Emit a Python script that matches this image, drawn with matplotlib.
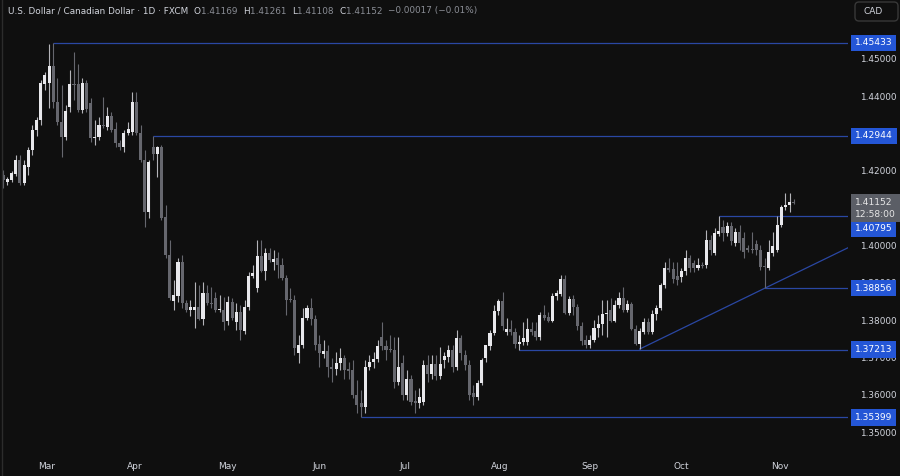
import matplotlib
matplotlib.use("Agg")
import matplotlib.pyplot as plt
from matplotlib.lines import Line2D
from matplotlib.patches import FancyBboxPatch
from matplotlib.transforms import IdentityTransform
import numpy as np

# USD/CAD daily candles (mid Feb -> early Nov)
opens = [
    1.4190, 1.4171, 1.4176, 1.4192, 1.4229, 1.4168, 1.4210, 1.4256, 1.4310, 1.4337,
    1.4433, 1.4436, 1.4481, 1.4385, 1.4332, 1.4291, 1.4371, 1.4433, 1.4433, 1.4363,
    1.4436, 1.4382, 1.4288, 1.4291, 1.4324, 1.4318, 1.4347, 1.4313, 1.4275, 1.4264,
    1.4302, 1.4305, 1.4385, 1.4302, 1.4229, 1.4090, 1.4264, 1.4245, 1.4264, 1.4077,
    1.3975, 1.3852, 1.3865, 1.3956, 1.3846, 1.3828, 1.3828, 1.3836, 1.3804, 1.3873,
    1.3846, 1.3860, 1.3828, 1.3828, 1.3799, 1.3849, 1.3796, 1.3823, 1.3771, 1.3836,
    1.3919, 1.3887, 1.3972, 1.3932, 1.3980, 1.3956, 1.3966, 1.3948, 1.3913, 1.3857,
    1.3854, 1.3712, 1.3733, 1.3807, 1.3833, 1.3804, 1.3736, 1.3709, 1.3717, 1.3675,
    1.3670, 1.3686, 1.3699, 1.3670, 1.3667, 1.3600, 1.3578, 1.3568, 1.3675, 1.3689,
    1.3696, 1.3755, 1.3731, 1.3723, 1.3720, 1.3635, 1.3686, 1.3600, 1.3643, 1.3584,
    1.3578, 1.3581, 1.3680, 1.3656, 1.3683, 1.3651, 1.3694, 1.3701, 1.3720, 1.3675,
    1.3752, 1.3707, 1.3680, 1.3605, 1.3594, 1.3632, 1.3699, 1.3731, 1.3766, 1.3825,
    1.3852, 1.3769, 1.3777, 1.3769, 1.3736, 1.3741, 1.3741, 1.3777, 1.3771, 1.3755,
    1.3815, 1.3809, 1.3799, 1.3865, 1.3870, 1.3911, 1.3820, 1.3857, 1.3836, 1.3785,
    1.3747, 1.3733, 1.3747, 1.3779, 1.3790, 1.3817, 1.3828, 1.3799, 1.3841, 1.3860,
    1.3828, 1.3844, 1.3777, 1.3736, 1.3769, 1.3796, 1.3769, 1.3817, 1.3833, 1.3895,
    1.3940, 1.3937, 1.3919, 1.3916, 1.3932, 1.3966, 1.3953, 1.3940, 1.3948, 1.3948,
    1.4015, 1.3980, 1.4031, 1.4050, 1.4034, 1.4053, 1.4007, 1.4037, 1.4021, 1.3993,
    1.3991, 1.4004, 1.3988, 1.3945, 1.3940, 1.3980, 1.3988, 1.4055, 1.4104, 1.4109,
    1.41169,
]
highs = [
    1.4203, 1.4184, 1.4200, 1.4243, 1.4243, 1.4229, 1.4264, 1.4324, 1.4345, 1.4444,
    1.4465, 1.4540, 1.45433, 1.4449, 1.4430, 1.4377, 1.4470, 1.4519, 1.4486, 1.4449,
    1.4444, 1.4395, 1.4337, 1.4345, 1.4398, 1.4371, 1.4358, 1.4332, 1.4283, 1.4310,
    1.4332, 1.4412, 1.4412, 1.4324, 1.4256, 1.4229, 1.42944, 1.4267, 1.4270, 1.4109,
    1.4015, 1.3908, 1.3966, 1.3975, 1.3854, 1.3854, 1.3903, 1.3895, 1.3903, 1.3895,
    1.3889, 1.3876, 1.3868, 1.3862, 1.3865, 1.3860, 1.3846, 1.3841, 1.3854, 1.3930,
    1.3948, 1.4015, 1.4015, 1.3993, 1.3993, 1.3988, 1.3983, 1.3966, 1.3921, 1.3887,
    1.3868, 1.3761, 1.3833, 1.3841, 1.3860, 1.3815, 1.3761, 1.3747, 1.3733, 1.3699,
    1.3715, 1.3725, 1.3707, 1.3689, 1.3694, 1.3640, 1.3613, 1.3694, 1.3707, 1.3715,
    1.3747, 1.3795, 1.3747, 1.3761, 1.3755, 1.3755, 1.3707, 1.3667, 1.3654, 1.3613,
    1.3619, 1.3694, 1.3707, 1.3707, 1.3707, 1.3728, 1.3715, 1.3733, 1.3733, 1.3774,
    1.3761, 1.3720, 1.3694, 1.3627, 1.3640, 1.3699, 1.3733, 1.3774, 1.3841, 1.3857,
    1.3876, 1.3807, 1.3801, 1.3779, 1.3761, 1.3795, 1.3807, 1.3795, 1.3795, 1.3823,
    1.3841, 1.3823, 1.3873, 1.3881, 1.3921, 1.3921, 1.3865, 1.3868, 1.3844, 1.3795,
    1.3761, 1.3761, 1.3801, 1.3815, 1.3854, 1.3854, 1.3860, 1.3854, 1.3876, 1.3889,
    1.3854, 1.3849, 1.3788, 1.3779, 1.3807, 1.3807, 1.3828, 1.3841, 1.3900, 1.3956,
    1.3966, 1.3956, 1.3956, 1.3940, 1.3988, 1.3975, 1.3961, 1.3966, 1.3956, 1.4042,
    1.4029, 1.4047, 1.40795, 1.4069, 1.4063, 1.4063, 1.4047, 1.4055, 1.4037, 1.4002,
    1.4037, 1.4015, 1.4002, 1.3966, 1.4015, 1.4037, 1.4079, 1.4109, 1.4141, 1.4141,
    1.41261,
]
lows = [
    1.4155, 1.4163, 1.4171, 1.4187, 1.4163, 1.4163, 1.4190, 1.4243, 1.4294, 1.4324,
    1.4417, 1.4368, 1.4368, 1.4324, 1.4237, 1.4283, 1.4358, 1.4390, 1.4358, 1.4355,
    1.4358, 1.4278, 1.4270, 1.4283, 1.4316, 1.4310, 1.4305, 1.4264, 1.4256, 1.4251,
    1.4296, 1.4296, 1.4296, 1.4224, 1.4050, 1.4074, 1.4229, 1.4184, 1.4069, 1.3966,
    1.3854, 1.3828, 1.3849, 1.3833, 1.3823, 1.3812, 1.3779, 1.3801, 1.3788, 1.3841,
    1.3833, 1.3823, 1.3823, 1.3774, 1.3788, 1.3801, 1.3774, 1.3747, 1.3763, 1.3828,
    1.3913, 1.3876, 1.3930, 1.3908, 1.3956, 1.3935, 1.3913, 1.3908, 1.3815, 1.3849,
    1.3707, 1.3686, 1.3725, 1.3801, 1.3788, 1.3720, 1.3675, 1.3699, 1.3648, 1.3635,
    1.3654, 1.3667, 1.3643, 1.3643, 1.3592, 1.3552, 1.35399, 1.3552, 1.3667, 1.3672,
    1.3689, 1.3720, 1.3694, 1.3715, 1.3619, 1.3627, 1.3586, 1.3586, 1.3573, 1.3552,
    1.3565, 1.3573, 1.3635, 1.3643, 1.3640, 1.3643, 1.3672, 1.3689, 1.3662, 1.3667,
    1.3694, 1.3667, 1.3586, 1.3573, 1.3586, 1.3627, 1.3689, 1.3720, 1.3761, 1.3815,
    1.3774, 1.3761, 1.3761, 1.3725, 1.37213, 1.3733, 1.3733, 1.3761, 1.3747, 1.3747,
    1.3801, 1.3796, 1.3796, 1.3854, 1.3865, 1.3817, 1.3815, 1.3815, 1.3774, 1.3733,
    1.3725, 1.3725, 1.3741, 1.3755, 1.3761, 1.3755, 1.3796, 1.3796, 1.3833, 1.3823,
    1.3823, 1.3774, 1.3733, 1.3723, 1.3763, 1.3763, 1.3763, 1.3801, 1.3828, 1.3887,
    1.3930, 1.3900, 1.3895, 1.3903, 1.3921, 1.3930, 1.3930, 1.3935, 1.3940, 1.3940,
    1.3975, 1.3975, 1.4026, 1.4013, 1.4026, 1.4002, 1.3999, 1.3988, 1.3966, 1.3983,
    1.3980, 1.3975, 1.3935, 1.38856, 1.3935, 1.3972, 1.3983, 1.4050, 1.4095, 1.4090,
    1.41108,
]
closes = [
    1.4176, 1.4179, 1.4195, 1.4229, 1.4168, 1.4216, 1.4256, 1.4310, 1.4337, 1.4436,
    1.4457, 1.4481, 1.4385, 1.4332, 1.4291, 1.4361, 1.4433, 1.4430, 1.4363, 1.4436,
    1.4366, 1.4288, 1.4291, 1.4324, 1.4321, 1.4347, 1.4310, 1.4275, 1.4264, 1.4302,
    1.4313, 1.4385, 1.4302, 1.4229, 1.4090, 1.4224, 1.4245, 1.4264, 1.4074, 1.3975,
    1.3860, 1.3868, 1.3956, 1.3846, 1.3828, 1.3836, 1.3836, 1.3804, 1.3873, 1.3846,
    1.3844, 1.3828, 1.3831, 1.3796, 1.3849, 1.3807, 1.3823, 1.3774, 1.3836, 1.3919,
    1.3927, 1.3972, 1.3932, 1.3980, 1.3961, 1.3964, 1.3948, 1.3913, 1.3854, 1.3854,
    1.3725, 1.3733, 1.3807, 1.3833, 1.3804, 1.3733, 1.3712, 1.3717, 1.3675, 1.3670,
    1.3686, 1.3699, 1.3667, 1.3664, 1.3600, 1.3573, 1.3568, 1.3675, 1.3689, 1.3696,
    1.3731, 1.3731, 1.3720, 1.3720, 1.3635, 1.3675, 1.3600, 1.3643, 1.3581, 1.3578,
    1.3594, 1.3680, 1.3656, 1.3683, 1.3651, 1.3683, 1.3704, 1.3720, 1.3675, 1.3752,
    1.3712, 1.3680, 1.3600, 1.3594, 1.3632, 1.3694, 1.3733, 1.3766, 1.3825, 1.3852,
    1.3785, 1.3777, 1.3769, 1.3736, 1.3741, 1.3752, 1.3777, 1.3769, 1.3755, 1.3815,
    1.3807, 1.3799, 1.3865, 1.3873, 1.3911, 1.3820, 1.3857, 1.3836, 1.3785, 1.3744,
    1.3733, 1.3747, 1.3779, 1.3790, 1.3817, 1.3820, 1.3799, 1.3841, 1.3860, 1.3828,
    1.3844, 1.3777, 1.3736, 1.3771, 1.3796, 1.3769, 1.3817, 1.3833, 1.3895, 1.3940,
    1.3935, 1.3911, 1.3908, 1.3932, 1.3966, 1.3940, 1.3940, 1.3948, 1.3945, 1.4015,
    1.3988, 1.4034, 1.4039, 1.4034, 1.4053, 1.4013, 1.4037, 1.4007, 1.3983, 1.3988,
    1.3988, 1.3988, 1.3943, 1.3943, 1.3983, 1.3999, 1.4055, 1.4104, 1.4109, 1.4117,
    1.41152,
]

months = ["Mar", "Apr", "May", "Jun", "Jul", "Aug", "Sep", "Oct", "Nov"]
month_pos = [10.5, 31.7, 53.8, 76.1, 96.6, 119.4, 141.0, 163.1, 186.7]

# horizontal levels: (price, candle index where the line starts)
levels = [1.45433, 1.42944, 1.40795, 1.38856, 1.37213, 1.35399]
level_start = [12, 36, 172, 183, 124, 86]
# trend line through two swing lows (candle index, price)
trend_pts = [(153, 1.3723), (183, 1.38856)]

# scale labels; 1.43 and 1.41 sit fully under the level / last price tags
price_ticks = [1.35, 1.36, 1.37, 1.38, 1.39, 1.40, 1.42, 1.44, 1.45]

BG = "#0f0f0f"
BULL = "#e8e8ec"
BEAR = "#66676e"
LINE = "#2a47a3"
BOX = "#2456d6"
TXT = "#d1d4dc"

o = np.array(opens)
h = np.array(highs)
l = np.array(lows)
c = np.array(closes)
idx = np.arange(len(o))
up = c >= o

fig = plt.figure(figsize=(9, 4.76), dpi=100, facecolor=BG)
ax = fig.add_axes([0, 0, 848 / 900, 1])
ax.set_facecolor(BG)
for s in ax.spines.values():
    s.set_visible(False)

xmax = 203.05
ax.set_xlim(-0.79, xmax)
ax.set_ylim(1.33828, 1.4658)

# wicks
ax.vlines(idx[up], l[up], h[up], color="#b4b4b9", lw=0.8, zorder=2)
ax.vlines(idx[~up], l[~up], h[~up], color=BEAR, lw=0.8, zorder=2)
# bodies
body = np.maximum(np.abs(c - o), 0.00025)
bottom = np.minimum(o, c)
ax.bar(idx[up], body[up], bottom=bottom[up], width=0.74, color=BULL, zorder=3)
ax.bar(idx[~up], body[~up], bottom=bottom[~up], width=0.74, color=BEAR, zorder=3)

# levels
for lev, st in zip(levels, level_start):
    ax.plot([st, xmax], [lev, lev], color=LINE, lw=0.9, zorder=1,
            solid_capstyle="butt")

# trend line extended to the right edge
(x1, y1), (x2, y2) = trend_pts
slope = (y2 - y1) / (x2 - x1)
ax.plot([x1, xmax], [y1, y1 + slope * (xmax - x1)], color=LINE, lw=0.9, zorder=1)

# x labels
ax.set_xticks([])
for m, p in zip(months, month_pos):
    ax.text(p, 0.019, m, transform=ax.get_xaxis_transform(), ha="center",
            va="center", color=TXT, fontsize=6.5)

# right price scale
ax.yaxis.tick_right()
ax.set_yticks(price_ticks)
ax.set_yticklabels([f"{v:.5f}" for v in price_ticks])
ax.tick_params(axis="y", length=0, pad=9, labelsize=6.4, labelcolor=TXT)

ytr = ax.get_yaxis_transform()
tag = dict(boxstyle="square,pad=0.4", fc=BOX, ec="none")
for lev in levels:
    if lev == 1.40795:
        continue
    ax.annotate(f"{lev:.5f}", xy=(1, lev), xycoords=ytr, xytext=(7, 0),
                textcoords="offset pixels", va="center", ha="left",
                fontsize=6.6, color="white", zorder=10, annotation_clip=False,
                bbox=tag)
# 1.40795 label is pushed down by the last price label
ax.annotate("1.40795", xy=(1, 1.40795), xycoords=ytr, xytext=(7, -13),
            textcoords="offset pixels", va="center", ha="left",
            fontsize=6.6, color="white", zorder=10, annotation_clip=False,
            bbox=tag)
# last price + countdown
ax.annotate(f"{closes[-1]:.5f}\n12:58:00", xy=(1, closes[-1]), xycoords=ytr,
            xytext=(7, 5), textcoords="offset pixels", va="top", ha="left",
            fontsize=6.6, color="#e6e6e6", linespacing=1.45, zorder=11,
            annotation_clip=False,
            bbox=dict(boxstyle="square,pad=0.4", fc="#5b5e66", ec="none"))

# left border
fig.add_artist(Line2D([1.5 / 900, 1.5 / 900], [0, 1], color="#2c2c2c", lw=1))

# currency box top right
fig.patches.append(FancyBboxPatch((855, 455), 43, 19,
                                  boxstyle="round,pad=0,rounding_size=4",
                                  transform=IdentityTransform(), fc=BG,
                                  ec="#383838", lw=1))
fig.text(873 / 900, 1 - 11 / 476, "CAD", ha="center", va="center",
         color=TXT, fontsize=6.5)

# header
fig.canvas.draw()
r = fig.canvas.get_renderer()
parts = [
    ("U.S. Dollar / Canadian Dollar \u00b7 1D \u00b7 FXCM  ", TXT),
    ("O", TXT), (f"{opens[-1]:.5f}  ", "#8a8d95"),
    ("H", TXT), (f"{highs[-1]:.5f}  ", "#8a8d95"),
    ("L", TXT), (f"{lows[-1]:.5f}  ", "#8a8d95"),
    ("C", TXT), (f"{closes[-1]:.5f}  ", "#8a8d95"),
    ("\u22120.00017 (\u22120.01%)", "#8a8d95"),
]
xp = 8
for s, col in parts:
    t = fig.text(xp / 900, 1 - 11 / 476, s, ha="left", va="center",
                 color=col, fontsize=6.4)
    xp += t.get_window_extent(r).width

fig.savefig("out.png", dpi=100, facecolor=BG)
